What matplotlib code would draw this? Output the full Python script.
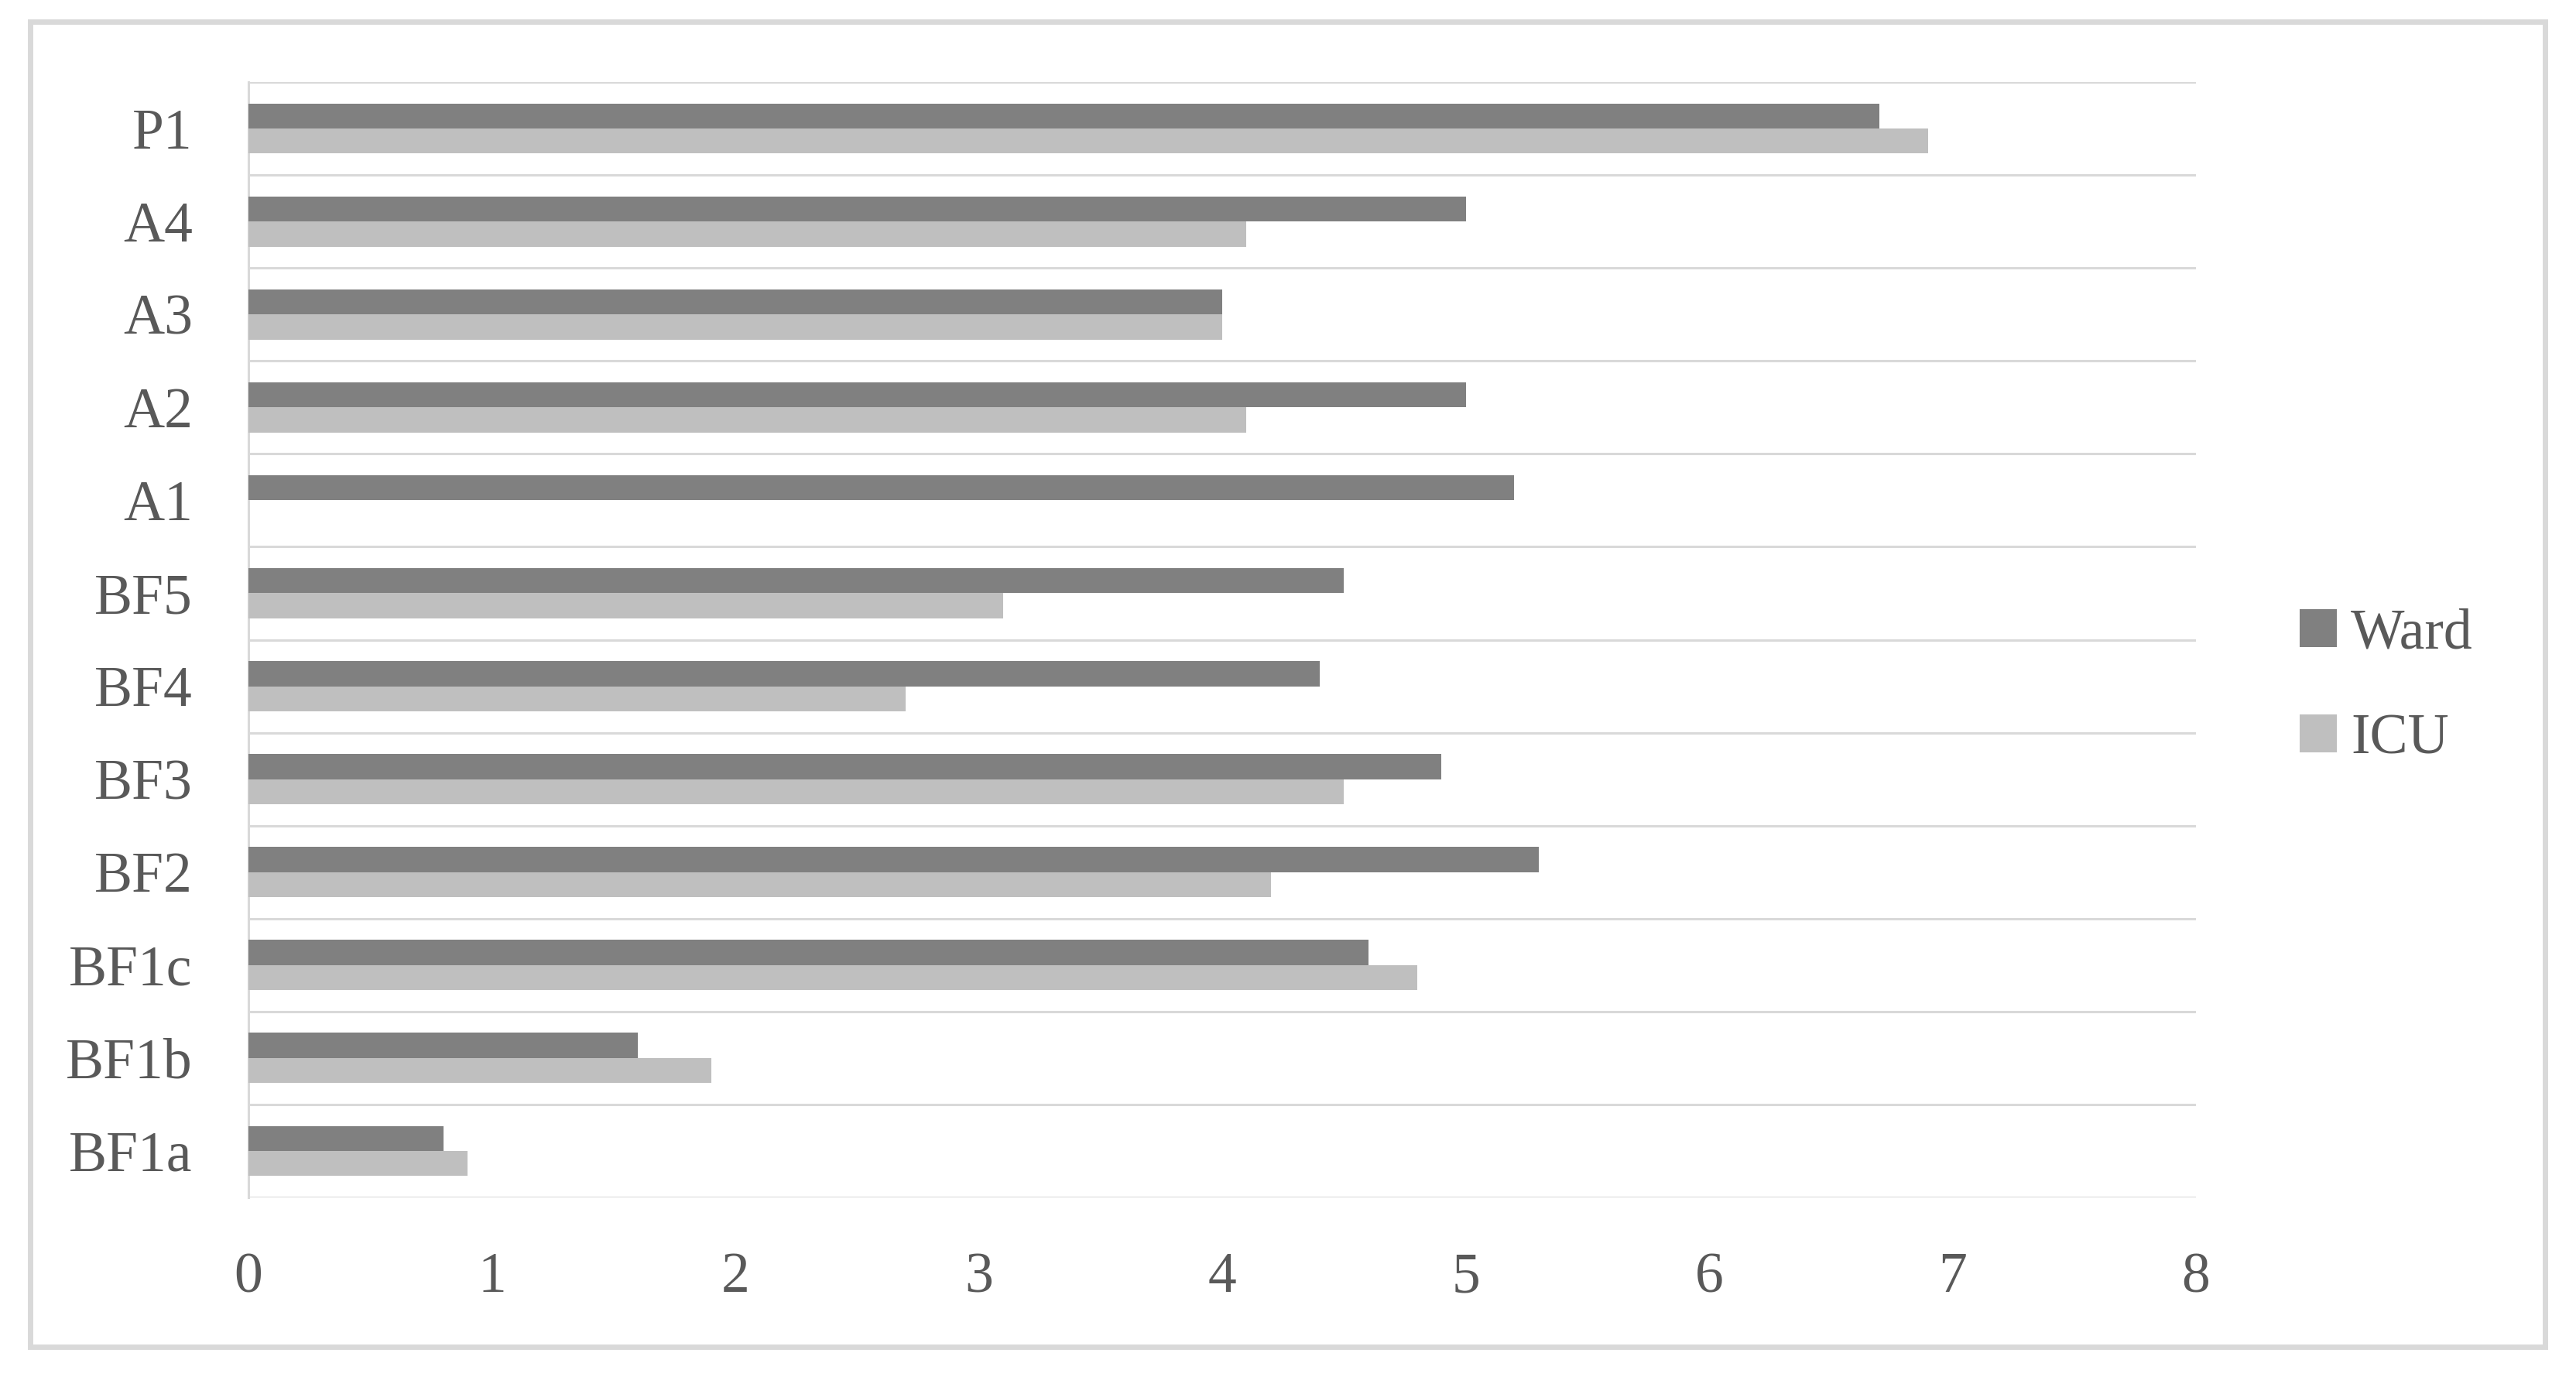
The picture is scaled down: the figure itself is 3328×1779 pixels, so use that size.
import matplotlib
matplotlib.use("Agg")
import matplotlib.pyplot as plt
from matplotlib.patches import Rectangle
import numpy as np

categories = ["BF1a", "BF1b", "BF1c", "BF2", "BF3", "BF4", "BF5", "A1", "A2", "A3", "A4", "P1"]
ward = [0.8, 1.6, 4.6, 5.3, 4.9, 4.4, 4.5, 5.2, 5.0, 4.0, 5.0, 6.7]
icu = [0.9, 1.9, 4.8, 4.2, 4.5, 2.7, 3.1, 0.0, 4.1, 4.0, 4.1, 6.9]
xticks = [0, 1, 2, 3, 4, 5, 6, 7, 8]
series_names = ["Ward", "ICU"]

plt.rcParams['font.family'] = ['Liberation Serif', 'DejaVu Serif']

W, H, DPI = 3328, 1779, 100
fig = plt.figure(figsize=(W / DPI, H / DPI), dpi=DPI)
ax = fig.add_axes([321 / W, 1 - 1547 / H, (2837 - 321) / W, (1547 - 106) / H])

text_color = "#595959"
grid_color = "#D9D9D9"
dark = "#808080"
light = "#BFBFBF"
fs = 53

y = np.arange(len(categories))
h = 0.27
b1 = ax.barh(y + h / 2, ward, height=h, color=dark, label=series_names[0], zorder=3)
b2 = ax.barh(y - h / 2, icu, height=h, color=light, label=series_names[1], zorder=3)

ax.set_xlim(0, 8)
ax.set_ylim(-0.5, len(categories) - 0.5)
ax.set_xticks(xticks)
ax.set_xticklabels([str(t) for t in xticks])
ax.set_yticks(y)
ax.set_yticklabels(categories)
ax.set_yticks(np.arange(-0.5, len(categories), 1.0), minor=True)
ax.grid(False)
ax.grid(which='minor', axis='y', color=grid_color, linewidth=2.2, zorder=1)
for gl in ax.yaxis.get_minorticklines():
    gl.set_visible(False)
for gl in ax.get_ygridlines():
    gl.set_clip_on(False)

ax.tick_params(axis='both', which='both', length=0)
ax.tick_params(axis='x', pad=51, labelsize=fs, labelcolor=text_color)
ax.tick_params(axis='y', pad=52, labelsize=fs, labelcolor=text_color)

for s in ["top", "right", "bottom"]:
    ax.spines[s].set_visible(False)
ax.spines["left"].set_color(grid_color)
ax.spines["left"].set_linewidth(2.2)

leg = fig.legend(handles=[b1, b2], labels=series_names, loc='center left',
                 bbox_to_anchor=(2971 / W, 1 - 888 / H), bbox_transform=fig.transFigure,
                 frameon=False, fontsize=fs, handlelength=0.65, handleheight=0.65,
                 handletextpad=0.25, labelspacing=0.93, borderpad=0, borderaxespad=0)
for t in leg.get_texts():
    t.set_color(text_color)

fig.patches.append(Rectangle((39 / W, 1 - 1740 / H), (3288 - 39) / W, (1740 - 28) / H,
                             transform=fig.transFigure, fill=False, edgecolor=grid_color,
                             linewidth=5, zorder=0))

fig.savefig("out.png", dpi=DPI, facecolor="white")
